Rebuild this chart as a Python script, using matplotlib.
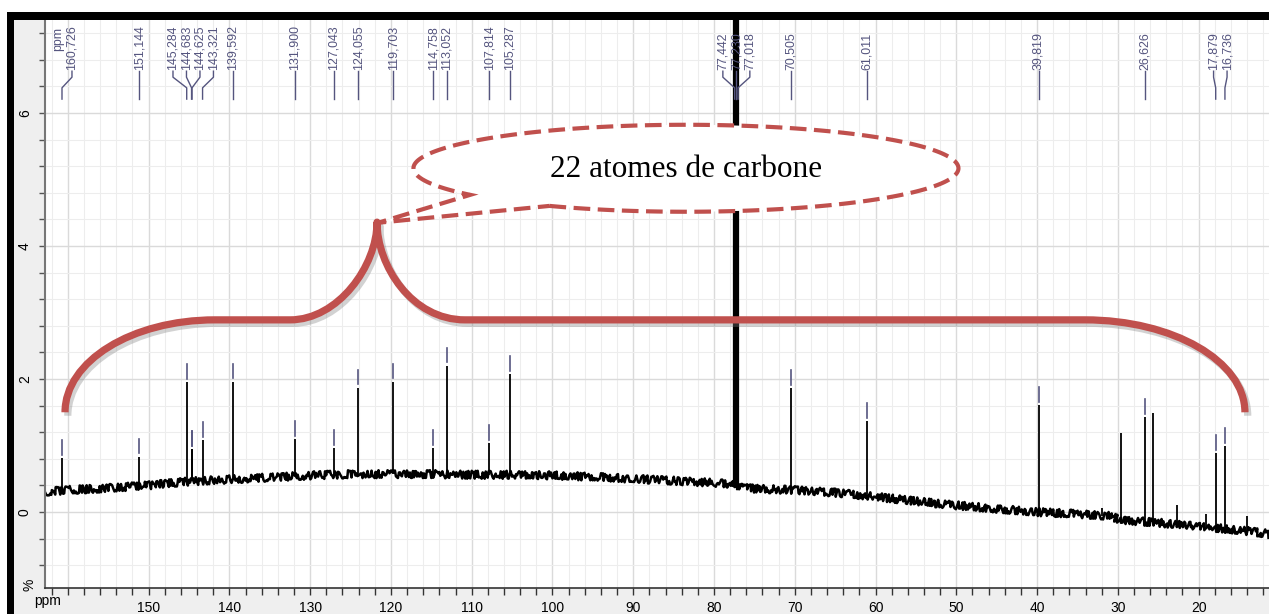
import numpy as np
import matplotlib.pyplot as plt
import matplotlib.patheffects as pe
from matplotlib.patches import Rectangle, PathPatch
from matplotlib.path import Path
from matplotlib.ticker import MultipleLocator, FixedLocator, FuncFormatter

plt.rcParams['font.family'] = ['Liberation Sans', 'DejaVu Sans']

# labelled 13C peaks: shift (ppm) and peak top (%)
label_ppm = [160.726, 151.144, 145.284, 144.683, 144.625, 143.321, 139.592,
             131.900, 127.043, 124.055, 119.703, 114.758, 113.052, 107.814,
             105.287, 77.442, 77.230, 77.018, 70.505, 61.011, 39.819,
             26.626, 17.879, 16.736]
label_top = [0.81, 0.83, 1.95, 0.95, 0.95, 1.08, 1.96,
             1.10, 0.96, 1.87, 1.96, 0.96, 2.20, 1.04,
             2.07, 4.60, 12.0, 4.60, 1.86, 1.37, 1.61,
             1.43, 0.89, 0.99]

# unlabelled peaks
extra_ppm = [31.9, 29.6, 25.6, 22.7, 19.1, 14.0]
extra_top = [0.06, 1.19, 1.49, 0.10, -0.03, -0.06]

# baseline drift
base_ppm = [162.83, 160, 155, 150, 145, 140, 135, 130, 125, 120, 115, 110,
            105, 100, 95, 90, 85, 80, 78.5, 76, 75, 70, 65, 60, 55, 50, 45,
            40, 35, 31, 29.5, 25, 20, 15, 11.28]
base_val = [0.30, 0.33, 0.36, 0.40, 0.46, 0.49, 0.52, 0.55, 0.57, 0.57, 0.57,
            0.56, 0.56, 0.55, 0.53, 0.50, 0.47, 0.44, 0.43, 0.36, 0.35, 0.33,
            0.29, 0.23, 0.16, 0.10, 0.05, 0.0, -0.03, -0.06, -0.12, -0.16,
            -0.22, -0.27, -0.33]

callout_text = '22 atomes de carbone'

RED = '#c0504d'
LAB = '#55557f'
X_LEFT, X_RIGHT = 162.83, 11.28
Y_BOT, Y_TOP = -1.143, 7.40
W, H = 1269, 614


def spread(xs, sep):
    # push overlapping labels apart, keeping each group centred on its peaks
    groups = [[i] for i in range(len(xs))]

    def layout(g):
        c = np.mean([xs[i] for i in g])
        n = len(g)
        return [c + sep * ((n - 1) / 2 - k) for k in range(n)]

    changed = True
    while changed:
        changed = False
        for j in range(len(groups) - 1):
            a, b = layout(groups[j]), layout(groups[j + 1])
            if a[-1] - b[0] < sep - 1e-9:
                groups[j] = groups[j] + groups[j + 1]
                del groups[j + 1]
                changed = True
                break
    out = []
    for g in groups:
        out += layout(g)
    return np.array(out)


fig = plt.figure(figsize=(W / 100, H / 100), dpi=100, facecolor='#efefef')
# white margins and black frame bars
fig.patches.append(Rectangle((0, (H - 12) / H), 1, 12 / H, transform=fig.transFigure,
                             facecolor='white', edgecolor='none', zorder=0))
fig.patches.append(Rectangle((0, 0), 7 / W, 1, transform=fig.transFigure,
                             facecolor='white', edgecolor='none', zorder=0))
fig.patches.append(Rectangle((7 / W, (H - 20) / H), 1, 8 / H, transform=fig.transFigure,
                             facecolor='black', edgecolor='none', zorder=1))
fig.patches.append(Rectangle((7 / W, 0), 7 / W, (H - 12) / H, transform=fig.transFigure,
                             facecolor='black', edgecolor='none', zorder=1))

ax = fig.add_axes([45 / W, 26 / H, (W - 45) / W, (588 - 20) / H])
ax.set_facecolor('white')
ax.set_xlim(X_LEFT, X_RIGHT)
ax.set_ylim(Y_BOT, Y_TOP)

# ticks / grid
ax.xaxis.set_major_locator(FixedLocator(np.arange(20, 161, 10)))
ax.xaxis.set_minor_locator(MultipleLocator(2))
ax.xaxis.set_major_formatter(FuncFormatter(lambda v, p: '' if v > 155 else f'{v:.0f}'))
ax.yaxis.set_major_locator(MultipleLocator(2))
ax.yaxis.set_minor_locator(MultipleLocator(0.4))
ax.set_axisbelow(True)
ax.grid(which='major', color='#dadada', lw=1.0)
ax.grid(which='minor', color='#ededed', lw=0.8)
ax.tick_params(axis='x', which='both', direction='out', length=5, width=1,
               color='#333333', labelsize=10, pad=4)
ax.tick_params(axis='y', which='both', direction='out', length=4.5, width=1,
               color='#555555', labelsize=10, pad=5, labelrotation=90)
for t in ax.get_yticklabels():
    t.set_va('center')
ax.spines['top'].set_visible(False)
ax.spines['right'].set_visible(False)
ax.spines['left'].set_color('#777777')
ax.spines['left'].set_linewidth(1.5)
ax.spines['bottom'].set_color('#333333')
ax.spines['bottom'].set_linewidth(1.2)

fig.text(48 / W, (H - 601) / H, 'ppm', fontsize=10, ha='center', va='center')
fig.text(29 / W, (H - 585) / H, '%', fontsize=10, rotation=90, ha='center', va='center')

# spectrum: noisy baseline (sketch style) + peak sticks
base_line, = ax.plot(base_ppm, base_val, color='black', lw=1.8, zorder=2)
base_line.set_sketch_params(scale=4.0, length=1.0, randomness=8.0)

xp_inc = np.array(base_ppm)[::-1]
yp_inc = np.array(base_val)[::-1]
all_ppm = np.array(label_ppm + extra_ppm)
all_top = np.array(label_top + extra_top)
all_bot = np.interp(all_ppm, xp_inc, yp_inc)
off_scale = all_top > Y_TOP
ax.vlines(all_ppm[~off_scale], all_bot[~off_scale], all_top[~off_scale],
          color='black', lw=1.3, zorder=2)
ax.vlines(all_ppm[off_scale], all_bot[off_scale], all_top[off_scale],
          color='black', lw=4.5, zorder=2)

# peak labels at the top with connector lines
sep = 1.67
lab_x = spread(label_ppm, sep)
lab_x[0] = min(lab_x[0], X_LEFT - 2 * sep)
for p, lx, top in zip(label_ppm, lab_x, label_top):
    ax.plot([p, p, lx, lx], [6.21, 6.38, 6.54, 6.63], color=LAB, lw=1.0, zorder=3)
    ax.text(lx, 6.65, f'{p:.3f}'.replace('.', ','), rotation=90, ha='center',
            va='bottom', fontsize=8.9, color=LAB, zorder=3)
    if top < Y_TOP:
        ax.plot([p, p], [top + 0.05, top + 0.27], color=LAB, lw=1.2, zorder=3)
ax.text(X_LEFT - sep, 7.30, 'ppm', rotation=90, ha='center', va='top',
        fontsize=8.9, color=LAB, zorder=3)

# curly brace over the peaks
brace_verts = [(160.35, 1.50), (160.35, 2.27), (152.06, 2.89), (141.78, 2.89),
               (132.49, 2.89),
               (126.55, 2.89), (121.72, 3.70), (121.72, 4.36),
               (121.72, 3.70), (117.39, 2.89), (110.83, 2.89),
               (34.07, 2.89),
               (23.18, 2.89), (14.26, 2.27), (14.26, 1.50)]
brace_codes = ([Path.MOVETO] + [Path.CURVE4] * 3 + [Path.LINETO] + [Path.CURVE4] * 6
               + [Path.LINETO] + [Path.CURVE4] * 3)
brace = PathPatch(Path(brace_verts, brace_codes), facecolor='none', edgecolor=RED,
                  lw=5.2, capstyle='butt', joinstyle='round', zorder=5)
brace.set_path_effects([pe.SimpleLineShadow(offset=(2, -2.5), shadow_color='#7f7f7f',
                                            alpha=0.35), pe.Normal()])
ax.add_patch(brace)

# dashed speech bubble
cx, cy, rx, ry = 83.47, 5.17, 33.74, 0.654
t = np.linspace(4.188, 2 * np.pi + 3.799, 240)
bub = np.column_stack([cx - rx * np.cos(t), cy + ry * np.sin(t)])
bub = np.vstack([bub, [[121.60, 4.35]], bub[:1]])
bubble = PathPatch(Path(bub), facecolor='white', edgecolor=RED, lw=3.0,
                   linestyle=(0, (4, 1.8)), zorder=6)
ax.add_patch(bubble)
ax.text(cx, cy - 0.02, callout_text, ha='center', va='center', fontsize=22.5,
        family='Liberation Serif', color='black', zorder=7)

fig.savefig('out.png', dpi=100, facecolor=fig.get_facecolor())
